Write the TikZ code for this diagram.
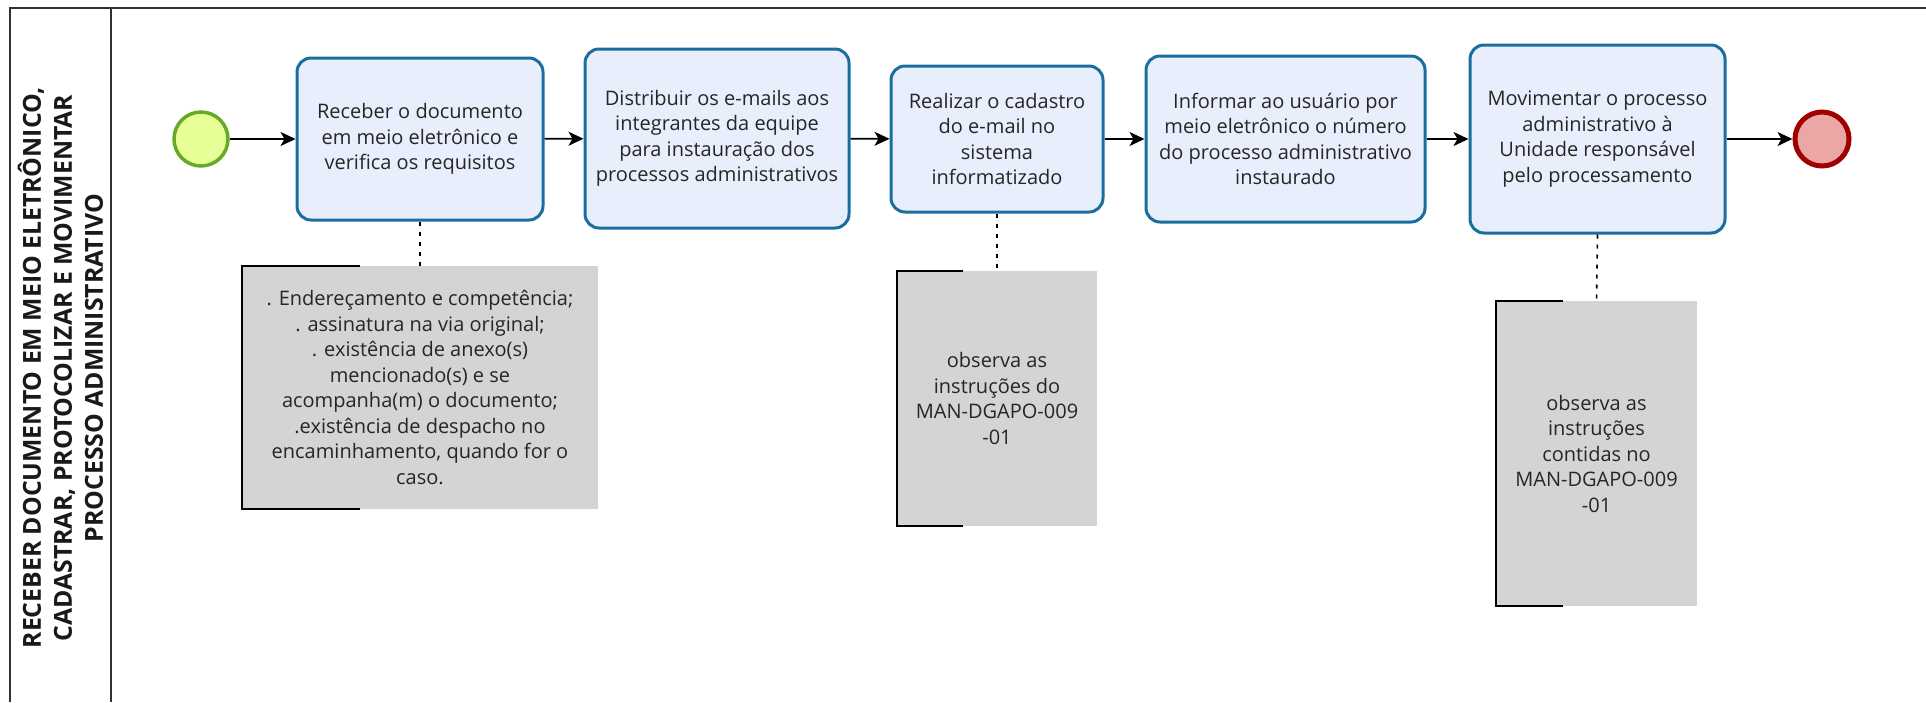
\documentclass[tikz,border=0pt]{standalone}
\usepackage{fontspec}
\setmainfont{Open Sans}
\usetikzlibrary{arrows.meta}
\definecolor{taskline}{RGB}{26,110,158}
\definecolor{taskfill}{RGB}{232,238,252}
\definecolor{startline}{RGB}{104,170,40}
\definecolor{startfill}{RGB}{230,255,150}
\definecolor{endline}{RGB}{160,0,0}
\definecolor{endfill}{RGB}{236,166,166}
\definecolor{notefill}{RGB}{212,212,212}
\definecolor{laneline}{RGB}{50,50,50}
\newcommand{\tf}{\fontsize{20}{25.5}\selectfont}
\begin{document}
\begin{tikzpicture}[x=1pt,y=-1pt,
  task/.style={draw=taskline, line width=3pt, fill=taskfill, rounded corners=14pt,
    align=center, font=\tf, inner sep=4pt, text=black!85},
  startev/.style={circle, draw=startline, line width=3.5pt, fill=startfill, minimum size=54pt, inner sep=0pt},
  endev/.style={circle, draw=endline, line width=5pt, fill=endfill, minimum size=54pt, inner sep=0pt},
  note/.style={fill=notefill, align=center, font=\tf, inner sep=0pt, text=black!85},
  bracket/.style={line width=2pt, black},
  flow/.style={line width=1.6pt, -{Stealth[length=15pt,width=14pt,inset=4pt]}},
  assoc/.style={line width=1.6pt, dash pattern=on 4pt off 6pt},
  lane/.style={line width=2pt, draw=laneline}]
\useasboundingbox (0,0) rectangle (1926,702);
% lane
\draw[lane] (10,702) -- (10,8) -- (1926,8);
\draw[lane] (111,8) -- (111,702);
\node[rotate=90, align=center, font=\bfseries\fontsize{24.8}{31}\selectfont, text=black!90] (lanelabel) at (60.5,368)
  {RECEBER DOCUMENTO EM MEIO ELETRÔNICO,\\CADASTRAR, PROTOCOLIZAR E MOVIMENTAR\\PROCESSO ADMINISTRATIVO};
% events
\node[startev] (start) at (201,139) {};
\node[endev] (end) at (1822,139) {};
% tasks
\node[task, minimum width=246pt, minimum height=162pt] (t1) at (420,139)
  {Receber o documento\\em meio eletrônico e\\verifica os requisitos};
\node[task, minimum width=264pt, minimum height=179pt] (t2) at (717,138.5)
  {Distribuir os e-mails aos\\integrantes da equipe\\para instauração dos\\processos administrativos};
\node[task, minimum width=212pt, minimum height=146pt] (t3) at (997,139)
  {Realizar o cadastro\\do e-mail no\\sistema\\informatizado};
\node[task, minimum width=279pt, minimum height=166pt] (t4) at (1285.5,139)
  {Informar ao usuário por\\meio eletrônico o número\\do processo administrativo\\instaurado};
\node[task, minimum width=255pt, minimum height=188pt] (t5) at (1597.5,139)
  {Movimentar o processo\\administrativo à\\Unidade responsável\\pelo processamento};
% flows
\draw[flow] (start) -- (t1);
\draw[flow] (t1) -- (t2);
\draw[flow] (t2) -- (t3);
\draw[flow] (t3) -- (t4);
\draw[flow] (t4) -- (t5);
\draw[flow] (t5) -- (end);
% annotations
\node[note, minimum width=356pt, minimum height=243pt] (n1) at (420,387.5)
  {. Endereçamento e competência;\\. assinatura na via original;\\. existência de anexo(s)\\mencionado(s) e se\\acompanha(m) o documento;\\.existência de despacho no\\encaminhamento, quando for o\\caso.};
\node[note, minimum width=200pt, minimum height=255pt] (n2) at (997,398.5)
  {observa as\\instruções do\\MAN-DGAPO-009\\-01};
\node[note, minimum width=201pt, minimum height=305pt] (n3) at (1596.5,453.5)
  {observa as\\instruções\\contidas no\\MAN-DGAPO-009\\-01};
\draw[bracket] ([xshift=118pt]n1.north west) -- (n1.north west) -- (n1.south west) -- ([xshift=118pt]n1.south west);
\draw[bracket] ([xshift=66pt]n2.north west) -- (n2.north west) -- (n2.south west) -- ([xshift=66pt]n2.south west);
\draw[bracket] ([xshift=67pt]n3.north west) -- (n3.north west) -- (n3.south west) -- ([xshift=67pt]n3.south west);
\draw[assoc] (t1.south) -- (n1.north);
\draw[assoc] (t3.south) -- (n2.north);
\draw[assoc] (t5.south) -- (n3.north);
\end{tikzpicture}
\end{document}
